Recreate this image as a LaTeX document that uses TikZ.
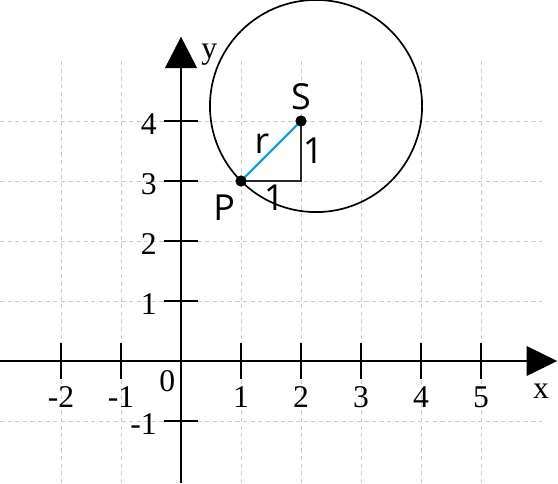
\documentclass[tikz,border=0pt]{standalone}
\usepackage{fontspec}
\setmainfont{Liberation Serif}
\newfontfamily\handfont{Open Sans}
\begin{document}
\begin{tikzpicture}[x=1cm,y=1cm,
  gridline/.style={draw=black!20, dash pattern=on 2pt off 1.6pt, line width=0.4pt},
  axisline/.style={draw=black, line width=1pt},
  tickline/.style={draw=black, line width=0.9pt},
  numlabel/.style={font=\fontsize{15}{17}\selectfont, inner sep=0pt},
  handlabel/.style={font=\handfont\fontsize{17}{19}\selectfont, inner sep=0pt},
  dotmark/.style={circle, fill=black, inner sep=0pt, minimum size=5.2pt},
  radiusline/.style={draw={rgb,255:red,20;green,160;blue,220}, line width=1.1pt},
  legline/.style={draw=black!85, line width=1pt},
  circleline/.style={draw=black, line width=0.8pt}]
\useasboundingbox (-3.017,-2.033) rectangle (6.283,6.017);
% grid
\foreach \yy in {-1,1,2,3,4} \draw[gridline] (-3.017,\yy) -- (6.02,\yy);
\foreach \xx in {-2,-1,1,2,3,4,5} \draw[gridline] (\xx,-2.033) -- (\xx,5);
% axes
\coordinate (xstart) at (-3.017,0);
\coordinate (xend) at (5.77,0);
\coordinate (ystart) at (0,-2.033);
\coordinate (yend) at (0,4.9);
\draw[axisline] (xstart) -- (xend);
\draw[axisline] (ystart) -- (yend);
\fill (5.76,0.25) -- (6.27,0) -- (5.76,-0.25) -- cycle;
\fill (-0.27,4.88) -- (0,5.405) -- (0.27,4.88) -- cycle;
% ticks
\foreach \xx in {-2,-1,1,2,3,4,5} {
  \draw[tickline] (\xx,0.3) -- (\xx,-0.3);
  \node[numlabel] (xl\xx) at (\xx,-0.6) {\xx};
}
\foreach \yy in {-1,1,2,3,4} {
  \draw[tickline] (-0.28,\yy) -- (0.28,\yy);
  \node[numlabel, anchor=east] (yl\yy) at (-0.4,\yy-0.05) {\yy};
}
\node[numlabel] (zero) at (-0.23,-0.33) {0};
\node[numlabel] (xlab) at (6.0,-0.5) {x};
\node[numlabel] (ylab) at (0.47,5.1) {y};
% circle
\draw[circleline] (2.25,4.25) circle (1.768);
% points
\node[dotmark] (P) at (1,3) {};
\node[dotmark] (S) at (2,4) {};
\coordinate (C) at (2,3);
\draw[legline] (P.center) -- (C) -- (S.center);
\draw[radiusline] (P.center) -- (S.center);
\node[dotmark] at (P) {};
\node[dotmark] at (S) {};
\node[handlabel] (Slab) at (2.0,4.4) {S};
\node[handlabel] (Plab) at (0.72,2.55) {P};
\node[handlabel] (rlab) at (1.35,3.62) {r};
\node[handlabel] (one1) at (2.2,3.5) {1};
\node[handlabel] (one2) at (1.55,2.73) {1};
\end{tikzpicture}
\end{document}
